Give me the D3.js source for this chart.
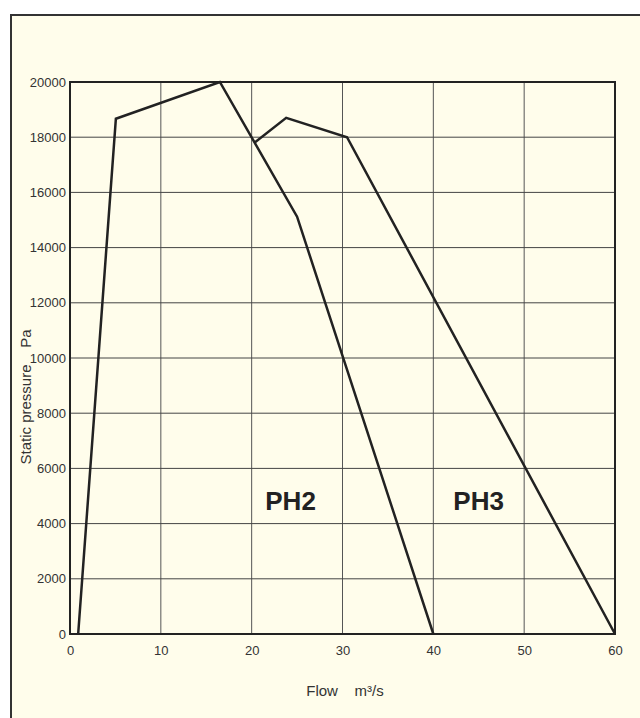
<!DOCTYPE html>
<html><head><meta charset="utf-8">
<script src="https://cdn.jsdelivr.net/npm/d3@7"></script>
<style>body{margin:0;background:#fff;}svg{display:block;font-family:Arial,"Liberation Sans",sans-serif;}</style>
</head><body>
<svg id="c" width="640" height="718"></svg>
<script>
const xTicks = [0,10,20,30,40,50,60];
const yTicks = [0,2000,4000,6000,8000,10000,12000,14000,16000,18000,20000];
const ph2Flow = [0.9, 5.05, 16.5, 25.0, 40.0];
const ph2Pressure = [0, 18670, 20000, 15120, 0];
const ph3Flow = [20.3, 23.8, 30.5, 60.0];
const ph3Pressure = [17800, 18700, 18000, 0];
const curveLabels = ["PH2","PH3"];
const curveLabelPos = [[21.5,4500],[42.2,4500]];

const svg = d3.select("#c");
svg.append("rect").attr("x",0).attr("y",0).attr("width",640).attr("height",718).attr("fill","#fff");
svg.append("rect").attr("x",11).attr("y",15).attr("width",640).attr("height",720)
  .attr("fill","#fffdeb").attr("stroke","#333").attr("stroke-width",2);

const L=70,R=615,T=82,B=634;
const x = d3.scaleLinear().domain([0,60]).range([L,R]);
const y = d3.scaleLinear().domain([0,20000]).range([B,T]);

const g = svg.append("g");
g.selectAll("line.v").data(xTicks).join("line").attr("class","v")
  .attr("x1",d=>x(d)).attr("x2",d=>x(d)).attr("y1",T).attr("y2",B)
  .attr("stroke","#555").attr("stroke-width",1);
g.selectAll("line.h").data(yTicks).join("line").attr("class","h")
  .attr("x1",L).attr("x2",R).attr("y1",d=>y(d)).attr("y2",d=>y(d))
  .attr("stroke","#444").attr("stroke-width",1);
g.append("rect").attr("x",L).attr("y",T).attr("width",R-L).attr("height",B-T)
  .attr("fill","none").attr("stroke","#222").attr("stroke-width",2);

const xAxis = d3.axisBottom(x).tickValues(xTicks).tickSize(0).tickPadding(12).tickFormat(d3.format("d"));
const ya = d3.axisLeft(y).tickValues(yTicks).tickSize(0).tickPadding(4).tickFormat(d=>String(d));
const gx = svg.append("g").attr("transform",`translate(0,${B})`).call(xAxis);
const gy = svg.append("g").attr("transform",`translate(${L},0)`).call(ya);
[gx,gy].forEach(a=>{a.select(".domain").remove();
  a.selectAll("text").attr("fill","#333").style("font-size","13px").style("font-family","Arial, 'Liberation Sans', sans-serif");
  a.selectAll("line").remove();});

const line = d3.line().x(d=>x(d[0])).y(d=>y(d[1]));
const ph2 = ph2Flow.map((f,i)=>[f,ph2Pressure[i]]);
const ph3 = ph3Flow.map((f,i)=>[f,ph3Pressure[i]]);
[ph2,ph3].forEach(d=>svg.append("path").attr("d",line(d)).attr("fill","none")
  .attr("stroke","#222").attr("stroke-width",2.5).attr("stroke-linejoin","miter"));

svg.selectAll("text.lbl").data(curveLabels).join("text").attr("class","lbl")
  .attr("x",(d,i)=>x(curveLabelPos[i][0])).attr("y",(d,i)=>y(curveLabelPos[i][1]))
  .attr("fill","#222").style("font-size","26px").style("font-weight","bold").text(d=>d);

svg.append("text").attr("x",345).attr("y",696).attr("text-anchor","middle")
  .attr("fill","#333").style("font-size","15px").style("white-space","pre").text("Flow    m³/s");
svg.append("text").attr("transform","translate(31,397) rotate(-90)").attr("text-anchor","middle")
  .attr("fill","#333").style("font-size","15px").style("white-space","pre").text("Static pressure    Pa");
</script>
</body></html>
